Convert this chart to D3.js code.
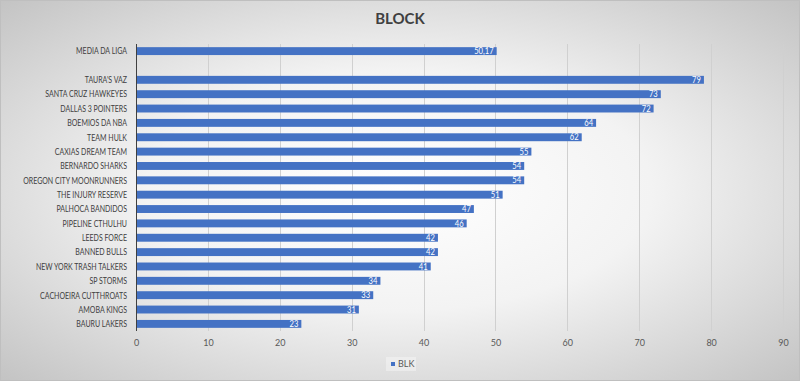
<!DOCTYPE html>
<html><head><meta charset="utf-8">
<script src="https://cdn.jsdelivr.net/npm/d3@7"></script>
<style>
html,body{margin:0;padding:0;}
svg{display:block;font-family:Lato,"Open Sans",sans-serif;}
</style></head>
<body>
<svg id="c" width="800" height="381"></svg>
<script>
const categories = ["MEDIA DA LIGA","","TAURA'S VAZ","SANTA CRUZ HAWKEYES","DALLAS 3 POINTERS","BOEMIOS DA NBA","TEAM HULK","CAXIAS DREAM TEAM","BERNARDO SHARKS","OREGON CITY MOONRUNNERS","THE INJURY RESERVE","PALHOCA BANDIDOS","PIPELINE CTHULHU","LEEDS FORCE","BANNED BULLS","NEW YORK TRASH TALKERS","SP STORMS","CACHOEIRA CUTTHROATS","AMOBA KINGS","BAURU LAKERS"];
const values = [50.17,null,79,73,72,64,62,55,54,54,51,47,46,42,42,41,34,33,31,23];
const xTicks = [0,10,20,30,40,50,60,70,80,90];
const seriesName = "BLK";
const title = "BLOCK";

const svg = d3.select("#c");
const W = 800, H = 381;
const defs = svg.append("defs");
const rg = defs.append("radialGradient").attr("id","bg").attr("cx","50%").attr("cy","50%").attr("r","70%");
rg.append("stop").attr("offset","0%").attr("stop-color","#ffffff");
rg.append("stop").attr("offset","45%").attr("stop-color","#f3f3f3");
rg.append("stop").attr("offset","100%").attr("stop-color","#c4c4c4");
svg.append("rect").attr("width",W).attr("height",H).attr("fill","url(#bg)");
svg.append("rect").attr("x",0.5).attr("y",0.5).attr("width",W-1).attr("height",H-1).attr("fill","none").attr("stroke","#bfbfbf");

const m = {l:136, r:17, t:44, b:50};
const x = d3.scaleLinear().domain([0,90]).range([m.l, W-m.r]);
const y = d3.scaleBand().domain(d3.range(categories.length)).range([m.t, H-m.b]).paddingInner(0.45).paddingOuter(0.22);

// gridlines
svg.append("g").selectAll("line").data(xTicks.slice(1)).join("line")
  .attr("x1",d=>Math.round(x(d))+0.5).attr("x2",d=>Math.round(x(d))+0.5)
  .attr("y1",m.t).attr("y2",H-m.b)
  .attr("stroke","#d0d0d0").attr("stroke-width",1);

// bars
const rows = categories.map((c,i)=>({c,i,v:values[i]})).filter(d=>d.v!=null);
svg.append("g").selectAll("rect").data(rows).join("rect")
  .attr("x",x(0)).attr("y",d=>y(d.i)).attr("width",d=>x(d.v)-x(0)).attr("height",y.bandwidth())
  .attr("fill","#4472c4");

// value labels
const fmt = v => Number.isInteger(v) ? String(v) : v.toFixed(2).replace(".",",");
const vl = svg.append("g").selectAll("text").data(rows).join("text")
  .attr("y",d=>y(d.i)+y.bandwidth()/2).attr("dy","0.35em")
  .attr("text-anchor","end").attr("fill","#ffffff").attr("font-size",9).text(d=>fmt(d.v));
vl.attr("transform",d=>`translate(${x(d.v)-3},0) scale(0.85,1)`);

// category labels (condensed to match narrow reference face)
const labelX = m.l-9;
const cl = svg.append("g").selectAll("text").data(categories.map((c,i)=>({c,i}))).join("text")
  .attr("y",d=>y(d.i)+y.bandwidth()/2).attr("dy","0.35em")
  .attr("text-anchor","end").attr("fill","#404040").attr("font-size",9.5).text(d=>d.c);
let maxW = 0;
cl.each(function(){ maxW = Math.max(maxW, this.getComputedTextLength()); });
const k = Math.min(1, 104/maxW);
cl.attr("transform",`translate(${labelX},0) scale(${k},1)`);

// axis line
svg.append("line").attr("x1",m.l+0.5).attr("x2",m.l+0.5).attr("y1",m.t).attr("y2",H-m.b)
  .attr("stroke","#404040").attr("stroke-width",1);

// x tick labels
const xa = d3.axisBottom(x).tickValues(xTicks).tickSize(0).tickPadding(9);
const gx = svg.append("g").attr("transform",`translate(0,${H-m.b})`).call(xa);
gx.select(".domain").remove();
gx.selectAll("text").attr("fill","#595959").attr("font-size",9).attr("font-family","Lato,'Open Sans',sans-serif");

// title
svg.append("text").attr("x",W/2).attr("y",24).attr("text-anchor","middle")
  .attr("font-size",15).attr("font-weight","bold").attr("fill","#404040").text(title);

// legend
const lg = svg.append("g").attr("transform","translate(386,357)");
lg.append("rect").attr("x",0).attr("y",0).attr("width",30).attr("height",14).attr("fill","#ffffff").attr("opacity",0.35);
lg.append("rect").attr("x",5).attr("y",5).attr("width",4).attr("height",4).attr("fill","#4472c4");
lg.append("text").attr("x",12).attr("y",7).attr("dy","0.35em").attr("font-size",9).attr("fill","#595959").text(seriesName);
</script>
</body></html>
